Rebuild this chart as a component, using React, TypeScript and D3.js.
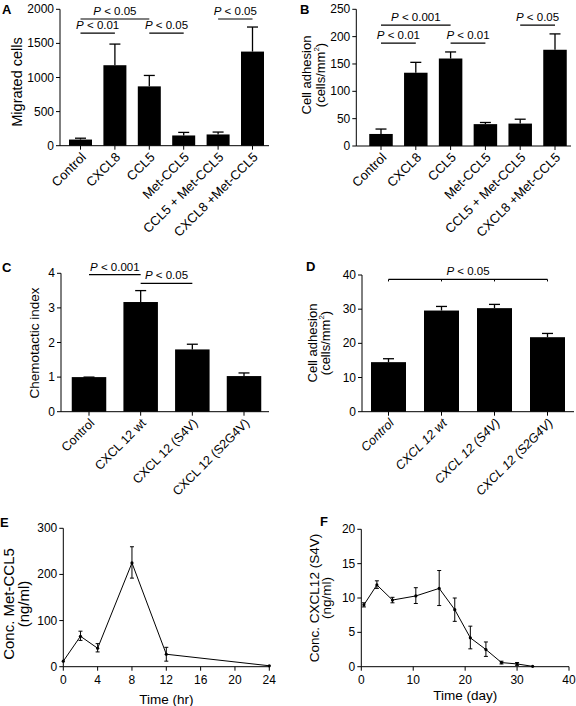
import React from 'react';
import * as d3 from 'd3';

const FONT = '"Liberation Sans", Arial, Helvetica, sans-serif';

// Panel A
const catsA = ['Control', 'CXCL8', 'CCL5', 'Met-CCL5', 'CCL5 + Met-CCL5', 'CXCL8 +Met-CCL5'];
const valsA = [90, 1180, 870, 150, 165, 1380];
const errTopA = [110, 1490, 1030, 195, 200, 1740];
const ticksA = [0, 500, 1000, 1500, 2000];
const sigA = [
  { a: 0, b: 2, level: 1858, label: '0.05' },
  { a: 0, b: 1, level: 1652, label: '0.01' },
  { a: 2, b: 3, level: 1652, label: '0.05' },
  { a: 4, b: 5, level: 1858, label: '0.05' },
];

// Panel B
const catsB = catsA;
const valsB = [22, 134, 160, 40, 41, 176];
const errTopB = [31, 153, 172, 43, 49, 205];
const ticksB = [0, 50, 100, 150, 200, 250];
const sigB = [
  { a: 0, b: 2, level: 221, label: '0.001' },
  { a: 0, b: 1, level: 188, label: '0.01' },
  { a: 2, b: 3, level: 188, label: '0.01' },
  { a: 4, b: 5, level: 221, label: '0.05' },
];

// Panel C
const catsC = ['Control', 'CXCL 12 wt', 'CXCL 12 (S4V)', 'CXCL 12 (S2G4V)'];
const valsC = [1.0, 3.17, 1.8, 1.03];
const errTopC = [1.0, 3.5, 1.95, 1.12];
const ticksC = [0, 1, 2, 3, 4];
const sigC = [
  { a: 0, b: 1, level: 3.96, label: '0.001' },
  { a: 1, b: 2, level: 3.71, label: '0.05' },
];

// Panel D
const catsD = catsC;
const valsD = [14.5, 29.6, 30.3, 21.8];
const errTopD = [15.5, 30.8, 31.4, 22.9];
const ticksD = [0, 10, 20, 30, 40];
const sigD = [{ a: 0, b: 3, level: 38.7, label: '0.05' }];

// Panel E
const timeE = [0, 2, 4, 8, 12, 24];
const concE = [12, 66, 40, 225, 27, 2];
const loE = [12, 57, 32, 192, 12, 2];
const hiE = [12, 77, 50, 260, 42, 2];
const xTicksE = [0, 4, 8, 12, 16, 20, 24];
const yTicksE = [0, 100, 200, 300];

// Panel F
const timeF = [0.5, 3, 6, 10.5, 15, 18, 21, 24, 27, 30, 33];
const concF = [9.0, 11.9, 9.7, 10.3, 11.4, 8.3, 4.2, 2.5, 0.6, 0.4, 0.05];
const loF = [8.7, 11.4, 9.3, 9.2, 8.9, 6.6, 2.6, 1.5, 0.4, 0.2, 0.05];
const hiF = [9.3, 12.5, 10.1, 11.5, 14.0, 10.0, 5.9, 3.6, 0.8, 0.6, 0.05];
const xTicksF = [0, 10, 20, 30, 40];
const yTicksF = [0, 5, 10, 15, 20];

type Sig = { a: number; b: number; level: number; label: string };

function PLabel({ x, y, label }: { x: number; y: number; label: string }) {
  return (
    <text x={x} y={y} textAnchor="middle" fontSize={11.5} fontFamily={FONT}>
      <tspan fontStyle="italic">P</tspan>
      <tspan>{` < ${label}`}</tspan>
    </text>
  );
}

function YLabel({ lines, xs, yc, size = 13 }: { lines: React.ReactNode[]; xs: number[]; yc: number; size?: number }) {
  return (
    <g>
      {lines.map((l, i) => (
        <text
          key={i}
          transform={`translate(${xs[i]},${yc}) rotate(-90)`}
          textAnchor="middle"
          dominantBaseline="central"
          fontSize={size}
          fontFamily={FONT}
        >
          {l}
        </text>
      ))}
    </g>
  );
}

function BarPanel(props: {
  cats: string[];
  vals: number[];
  errTop: number[];
  ticks: number[];
  sigs: Sig[];
  x0: number;
  x1: number;
  c0: number;
  c1: number;
  bw: number;
  yTop: number;
  yBottom: number;
  italic?: boolean;
  sigTicks?: boolean;
  labelSize?: number;
}) {
  const { cats, vals, errTop, ticks, sigs, x0, x1, c0, c1, bw, yTop, yBottom, italic, sigTicks } = props;
  const max = ticks[ticks.length - 1];
  const y = d3.scaleLinear().domain([0, max]).range([yBottom, yTop]);
  const x = d3.scalePoint<string>().domain(cats).range([c0, c1]);
  const capW = 11;
  return (
    <g fontFamily={FONT}>
      {cats.map((c, i) => {
        const cx = x(c)!;
        return (
          <g key={c}>
            <line x1={cx} x2={cx} y1={y(vals[i])} y2={y(errTop[i])} stroke="#000" strokeWidth={1.3} />
            <line x1={cx - capW / 2} x2={cx + capW / 2} y1={y(errTop[i])} y2={y(errTop[i])} stroke="#000" strokeWidth={1.3} />
            <rect x={cx - bw / 2} y={y(vals[i])} width={bw} height={y(0) - y(vals[i])} fill="#000" />
            <line x1={cx} x2={cx} y1={y(0)} y2={y(0) + 4} stroke="#000" strokeWidth={1} />
            <text
              transform={`translate(${cx + 3},${y(0) + 9}) rotate(-45)`}
              textAnchor="end"
              dy="0.35em"
              fontSize={props.labelSize ?? 12.5}
              fontStyle={italic ? 'italic' : 'normal'}
            >
              {c}
            </text>
          </g>
        );
      })}
      <line x1={x0} x2={x0} y1={y(0)} y2={y(max)} stroke="#000" strokeWidth={1} />
      <line x1={x0} x2={x1} y1={y(0)} y2={y(0)} stroke="#000" strokeWidth={1} />
      {ticks.map((t) => (
        <g key={t}>
          <line x1={x0 - 4} x2={x0} y1={y(t)} y2={y(t)} stroke="#000" strokeWidth={1} />
          <text x={x0 - 6} y={y(t)} textAnchor="end" dominantBaseline="central" fontSize={12}>
            {t}
          </text>
        </g>
      ))}
      {sigs.map((s, i) => {
        const xa = x(cats[s.a])!;
        const xb = x(cats[s.b])!;
        const ly = y(s.level);
        return (
          <g key={i}>
            <line x1={xa} x2={xb} y1={ly} y2={ly} stroke="#000" strokeWidth={1.2} />
            {sigTicks &&
              cats.slice(s.a, s.b + 1).map((c) => (
                <line key={c} x1={x(c)!} x2={x(c)!} y1={ly} y2={ly + 2} stroke="#000" strokeWidth={1} />
              ))}
            <PLabel x={(xa + xb) / 2} y={ly - 4} label={s.label} />
          </g>
        );
      })}
    </g>
  );
}

function LinePanel(props: {
  xs: number[];
  ys: number[];
  lo: number[];
  hi: number[];
  xTicks: number[];
  yTicks: number[];
  x0: number;
  x1: number;
  yTop: number;
  yBottom: number;
  xTitle: string;
  xTitleY: number;
}) {
  const { xs, ys, lo, hi, xTicks, yTicks, x0, x1, yTop, yBottom } = props;
  const x = d3.scaleLinear().domain([xTicks[0], xTicks[xTicks.length - 1]]).range([x0, x1]);
  const y = d3.scaleLinear().domain([0, yTicks[yTicks.length - 1]]).range([yBottom, yTop]);
  const pts = xs.map((v, i) => [v, ys[i]] as [number, number]);
  const path = d3.line<[number, number]>().x((d) => x(d[0])).y((d) => y(d[1]))(pts)!;
  const cap = 2;
  return (
    <g fontFamily={FONT}>
      <line x1={x0} x2={x0} y1={yBottom} y2={yTop} stroke="#000" strokeWidth={1} />
      <line x1={x0} x2={x1} y1={yBottom} y2={yBottom} stroke="#000" strokeWidth={1} />
      {yTicks.map((t) => (
        <g key={t}>
          <line x1={x0 - 4} x2={x0} y1={y(t)} y2={y(t)} stroke="#000" />
          <text x={x0 - 6} y={y(t)} textAnchor="end" dominantBaseline="central" fontSize={12}>
            {t}
          </text>
        </g>
      ))}
      {xTicks.map((t) => (
        <g key={t}>
          <line x1={x(t)} x2={x(t)} y1={yBottom} y2={yBottom + 4} stroke="#000" />
          <text x={x(t)} y={yBottom + 13} textAnchor="middle" dominantBaseline="central" fontSize={12}>
            {t}
          </text>
        </g>
      ))}
      <text x={(x0 + x1) / 2} y={props.xTitleY} textAnchor="middle" dominantBaseline="central" fontSize={13.5}>
        {props.xTitle}
      </text>
      <path d={path} fill="none" stroke="#000" strokeWidth={1} />
      {xs.map((v, i) => (
        <g key={i}>
          {hi[i] > lo[i] && (
            <g stroke="#000" strokeWidth={1}>
              <line x1={x(v)} x2={x(v)} y1={y(lo[i])} y2={y(hi[i])} />
              <line x1={x(v) - cap} x2={x(v) + cap} y1={y(lo[i])} y2={y(lo[i])} />
              <line x1={x(v) - cap} x2={x(v) + cap} y1={y(hi[i])} y2={y(hi[i])} />
            </g>
          )}
          <circle cx={x(v)} cy={y(ys[i])} r={1.6} fill="#000" />
        </g>
      ))}
    </g>
  );
}

function PanelLetter({ x, y, t }: { x: number; y: number; t: string }) {
  return (
    <text x={x} y={y} fontSize={13} fontWeight="bold" fontFamily={FONT}>
      {t}
    </text>
  );
}

const mm2 = (
  <>
    (cells/mm<tspan dy="-4" fontSize={8}>2</tspan>
    <tspan dy="4">)</tspan>
  </>
);

export default function App() {
  return (
    <svg
      width={576}
      height={706}
      style={{ position: 'absolute', left: 0, top: 0, background: '#fff' }}
    >
      <rect x={0} y={0} width={576} height={706} fill="#fff" />
      {/* A */}
      <PanelLetter x={2} y={14} t="A" />
      <YLabel lines={['Migrated cells']} xs={[17]} yc={82} size={14.5} />
      <BarPanel
        cats={catsA}
        vals={valsA}
        errTop={errTopA}
        ticks={ticksA}
        sigs={sigA}
        x0={60}
        x1={269}
        c0={80.5}
        c1={252.5}
        bw={23}
        yTop={9.3}
        yBottom={145.7}
        labelSize={13}
      />
      {/* B */}
      <PanelLetter x={300} y={14} t="B" />
      <YLabel lines={['Cell adhesion', mm2]} xs={[306, 320]} yc={75} size={13} />
      <BarPanel
        cats={catsB}
        vals={valsB}
        errTop={errTopB}
        ticks={ticksB}
        sigs={sigB}
        x0={356.3}
        x1={571}
        c0={381}
        c1={555}
        bw={23.5}
        yTop={9.3}
        yBottom={146}
        labelSize={13}
      />
      {/* C */}
      <PanelLetter x={2} y={272} t="C" />
      <YLabel lines={['Chemotactic index']} xs={[34]} yc={343} size={13.5} />
      <BarPanel
        cats={catsC}
        vals={valsC}
        errTop={errTopC}
        ticks={ticksC}
        sigs={sigC}
        x0={61}
        x1={269}
        c0={89}
        c1={244}
        bw={34.5}
        yTop={273.3}
        yBottom={411.7}
        labelSize={12.5}
      />
      {/* D */}
      <PanelLetter x={306} y={271} t="D" />
      <YLabel lines={['Cell adhesion', mm2]} xs={[312, 325]} yc={343} size={13} />
      <BarPanel
        cats={catsD}
        vals={valsD}
        errTop={errTopD}
        ticks={ticksD}
        sigs={sigD}
        x0={362}
        x1={574}
        c0={388.5}
        c1={547.5}
        bw={35}
        yTop={275}
        yBottom={411.7}
        italic
        sigTicks
        labelSize={12.5}
      />
      {/* E */}
      <PanelLetter x={0} y={527} t="E" />
      <YLabel lines={['Conc. Met-CCL5', '(ng/ml)']} xs={[8, 23]} yc={604} size={15} />
      <LinePanel
        xs={timeE}
        ys={concE}
        lo={loE}
        hi={hiE}
        xTicks={xTicksE}
        yTicks={yTicksE}
        x0={63.3}
        x1={269.3}
        yTop={528.3}
        yBottom={666.7}
        xTitle="Time (hr)"
        xTitleY={699}
      />
      {/* F */}
      <PanelLetter x={320} y={526} t="F" />
      <YLabel lines={['Conc. CXCL12 (S4V)', '(ng/ml)']} xs={[314, 326]} yc={598} size={13.5} />
      <LinePanel
        xs={timeF}
        ys={concF}
        lo={loF}
        hi={hiF}
        xTicks={xTicksF}
        yTicks={yTicksF}
        x0={361.3}
        x1={569}
        yTop={529.3}
        yBottom={666.7}
        xTitle="Time (day)"
        xTitleY={695}
      />
    </svg>
  );
}
